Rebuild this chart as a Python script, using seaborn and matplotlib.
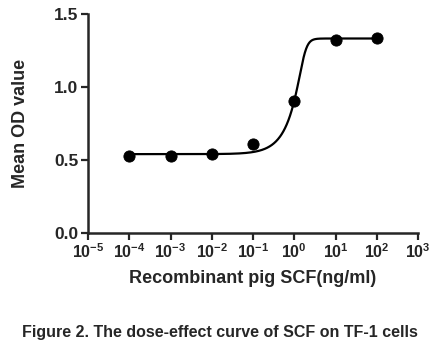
#dose-effect curve of SCF on TF-1 cells

import numpy as np
import pandas as pd
import matplotlib
matplotlib.use('Agg')
import matplotlib.pyplot as plt
import seaborn as sns

#measured points
conc=[1e-4,1e-3,1e-2,1e-1,1e0,1e1,1e2]
od=[0.53,0.53,0.54,0.61,0.905,1.32,1.335]

#fitted 5PL parameters
bottom=0.54
top=1.333
log_ec50=0.236
hill=6.0
asym=0.235

decades=list(range(-5,4))
yticks=[0.0,0.5,1.0,1.5]

sns.set_style('ticks')
plt.rcParams['font.family']=['Liberation Sans','DejaVu Sans']
plt.rcParams['font.weight']='bold'
plt.rcParams['mathtext.fontset']='custom'
plt.rcParams['mathtext.bf']='Liberation Sans:bold'
plt.rcParams['mathtext.rm']='Liberation Sans:bold'

pts=pd.DataFrame({'conc':conc,'od':od})
logx=np.linspace(-4,2,600)
fit=pd.DataFrame({'conc':10**logx,
                  'od':bottom+(top-bottom)/(1+10**((log_ec50-logx)*hill))**asym})

fig=plt.figure(figsize=(4.4,3.45),dpi=100)
ax=fig.add_axes([0.2,0.325,0.75,0.634])

sns.lineplot(data=fit,x='conc',y='od',color='black',linewidth=1.6,ax=ax)
sns.scatterplot(data=pts,x='conc',y='od',color='black',s=65,edgecolor='black',ax=ax,zorder=3)

ax.set_xscale('log')
ax.set_xlim(1e-5,1e3)
ax.set_ylim(0,1.5)
ax.set_xticks([10.0**d for d in decades])
ax.set_xticklabels([r'$\mathbf{10^{%d}}$'%d for d in decades])
ax.minorticks_off()
ax.set_yticks(yticks)
ax.set_yticklabels(['%.1f'%v for v in yticks])
ax.tick_params(axis='y',labelsize=12.5,width=1.6,length=5,direction='out',pad=2)
ax.tick_params(axis='x',labelsize=11.5,width=1.6,length=5,direction='out',pad=2)
for s in ['left','bottom']:
    ax.spines[s].set_linewidth(1.8)
sns.despine(ax=ax)

ax.set_xlabel('Recombinant pig SCF(ng/ml)',fontsize=13,fontweight='bold',labelpad=6)
ax.set_ylabel('Mean OD value',fontsize=13,fontweight='bold',labelpad=18)

fig.text(0.5,0.035,'Figure 2. The dose-effect curve of SCF on TF-1 cells',
         ha='center',va='center',fontsize=11.5,fontweight='bold')

fig.savefig('out.png',dpi=100)
